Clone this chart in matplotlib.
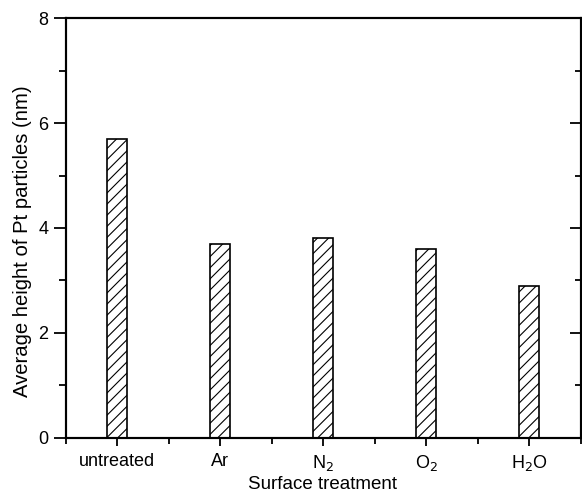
import matplotlib
matplotlib.use("Agg")
import matplotlib.pyplot as plt
from matplotlib.ticker import MultipleLocator, FixedLocator

plt.rcParams['font.family'] = ['Liberation Sans', 'DejaVu Sans']
plt.rcParams['hatch.linewidth'] = 0.8

categories = ['untreated', 'Ar', 'N$_2$', 'O$_2$', 'H$_2$O']
heights = [5.7, 3.7, 3.8, 3.6, 2.9]

fig = plt.figure(figsize=(5.82, 4.93), dpi=100)
ax = fig.add_axes([65.5/582, (493-437.7)/493, 515/582, (437.7-18.3)/493])

x = list(range(1, len(categories) + 1))
ax.bar(x, heights, width=0.2, color='white', edgecolor='black', hatch='///', linewidth=1.2)

ax.set_xlim(0.5, 5.5)
ax.set_ylim(0, 8)
ax.set_xticks(x)
ax.set_xticklabels(categories, fontsize=13)
ax.xaxis.set_minor_locator(FixedLocator([0.5, 1.5, 2.5, 3.5, 4.5, 5.5]))
ax.yaxis.set_major_locator(MultipleLocator(2))
ax.yaxis.set_minor_locator(MultipleLocator(1))
ax.tick_params(axis='y', which='major', labelsize=13, length=9, width=1.3, direction='out')
ax.tick_params(axis='y', which='minor', length=5, width=1.3, direction='out')
ax.tick_params(axis='x', which='major', length=6, width=1.3, direction='out', pad=5)
ax.tick_params(axis='x', which='minor', length=4, width=1.3, direction='out')

# right-side inward ticks
axr = ax.twinx()
axr.set_ylim(ax.get_ylim())
axr.yaxis.set_major_locator(MultipleLocator(2))
axr.yaxis.set_minor_locator(MultipleLocator(1))
axr.tick_params(axis='y', which='major', length=8, width=1.3, direction='in', labelright=False)
axr.tick_params(axis='y', which='minor', length=4, width=1.3, direction='in')

for a in (ax, axr):
    for s in a.spines.values():
        s.set_linewidth(1.5)

ax.set_xlabel('Surface treatment', fontsize=13.5, labelpad=2)
ax.set_ylabel('Average height of Pt particles (nm)', fontsize=14.6)
ax.yaxis.set_label_coords(-0.066, 0.469)

fig.savefig('out.png', dpi=100)
